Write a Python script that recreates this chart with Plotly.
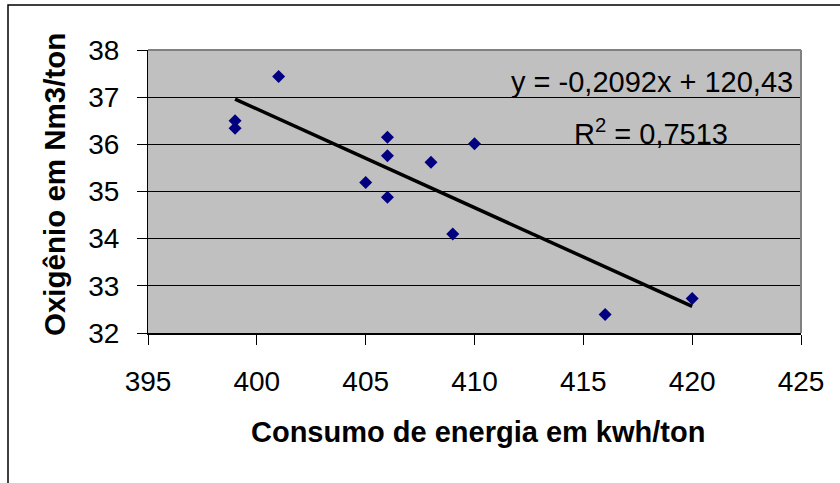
import plotly.graph_objects as go

# Data
energia = [401, 399, 399, 406, 406, 408, 410, 405, 406, 409, 416, 420]
oxigenio = [37.44, 36.50, 36.34, 36.15, 35.76, 35.62, 36.01, 35.19, 34.88, 34.10, 32.39, 32.73]

SLOPE = -0.2092
INTERCEPT = 120.43
R2 = 0.7513

x_ticks = [395, 400, 405, 410, 415, 420, 425]
y_ticks = [32, 33, 34, 35, 36, 37, 38]

x_title = "Consumo de energia em kwh/ton"
y_title = "Oxigênio em Nm3/ton"

FONT = "Arial, 'Liberation Sans', sans-serif"

# layout geometry (pixels)
W, H = 840, 483
L, R, T, B = 148, 801, 50, 333
pw, ph = R - L, B - T


def px(x):
    return (x - L) / pw


def py(y):
    return (B - y) / ph


trend_x = [min(energia), max(energia)]
trend_y = [SLOPE * v + INTERCEPT for v in trend_x]

fig = go.Figure()
fig.add_trace(go.Scatter(
    x=energia, y=oxigenio, mode="markers",
    marker=dict(symbol="diamond", size=10, color="#000080"),
    showlegend=False, hoverinfo="x+y",
))
fig.add_trace(go.Scatter(
    x=trend_x, y=trend_y, mode="lines",
    line=dict(color="black", width=3.5),
    showlegend=False, hoverinfo="skip",
))


def fmt(v, d):
    return f"{v:.{d}f}".replace(".", ",")


eq_text = f"y = {fmt(SLOPE, 4)}x + {fmt(INTERCEPT, 2)}"
r2_text = f"R<sup>2</sup> = {fmt(R2, 4)}"

fig.update_layout(
    width=W, height=H,
    margin=dict(l=L, r=W - R, t=T, b=H - B, pad=0),
    paper_bgcolor="white",
    plot_bgcolor="#C0C0C0",
    font=dict(family=FONT, size=28, color="black"),
    xaxis=dict(
        range=[x_ticks[0], x_ticks[-1]], tickvals=x_ticks,
        showgrid=False, zeroline=False,
        showline=True, linecolor="black", linewidth=2,
        ticks="outside", ticklen=10, tickwidth=1, tickcolor="black",
        ticklabelstandoff=12,
        tickfont=dict(size=28, family=FONT, color="black"),
    ),
    yaxis=dict(
        range=[y_ticks[0], y_ticks[-1]], tickvals=y_ticks,
        showgrid=True, gridcolor="black", gridwidth=1, zeroline=False,
        showline=True, linecolor="black", linewidth=1,
        ticks="outside", ticklen=10, tickwidth=1, tickcolor="black",
        ticklabelstandoff=12,
        tickfont=dict(size=28, family=FONT, color="black"),
    ),
    shapes=[
        # outer chart frame
        dict(type="rect", xref="paper", yref="paper",
             x0=px(8), x1=px(860), y0=py(500), y1=py(5),
             line=dict(color="black", width=1.5), fillcolor="rgba(0,0,0,0)",
             layer="below"),
        # plot area border (top and right, gray)
        dict(type="line", xref="paper", yref="paper",
             x0=0, x1=1, y0=1, y1=1,
             line=dict(color="#808080", width=2), layer="above"),
        dict(type="line", xref="paper", yref="paper",
             x0=1, x1=1, y0=0, y1=1,
             line=dict(color="#808080", width=2), layer="above"),
    ],
    annotations=[
        dict(text=f"<b>{x_title}</b>", xref="paper", yref="paper",
             x=px(478), y=py(432), xanchor="center", yanchor="middle",
             showarrow=False, font=dict(size=29, family=FONT, color="black")),
        dict(text=f"<b>{y_title}</b>", xref="paper", yref="paper",
             x=px(55), y=py(185), xanchor="center", yanchor="middle",
             textangle=-90,
             showarrow=False, font=dict(size=29.5, family=FONT, color="black")),
        dict(text=eq_text, xref="paper", yref="paper",
             x=px(795), y=py(82), xanchor="right", yanchor="middle",
             showarrow=False, font=dict(size=29, family=FONT, color="black")),
        dict(text=r2_text, xref="paper", yref="paper",
             x=px(651), y=py(132), xanchor="center", yanchor="middle",
             showarrow=False, font=dict(size=29, family=FONT, color="black")),
    ],
)

fig.write_html("out.html")
